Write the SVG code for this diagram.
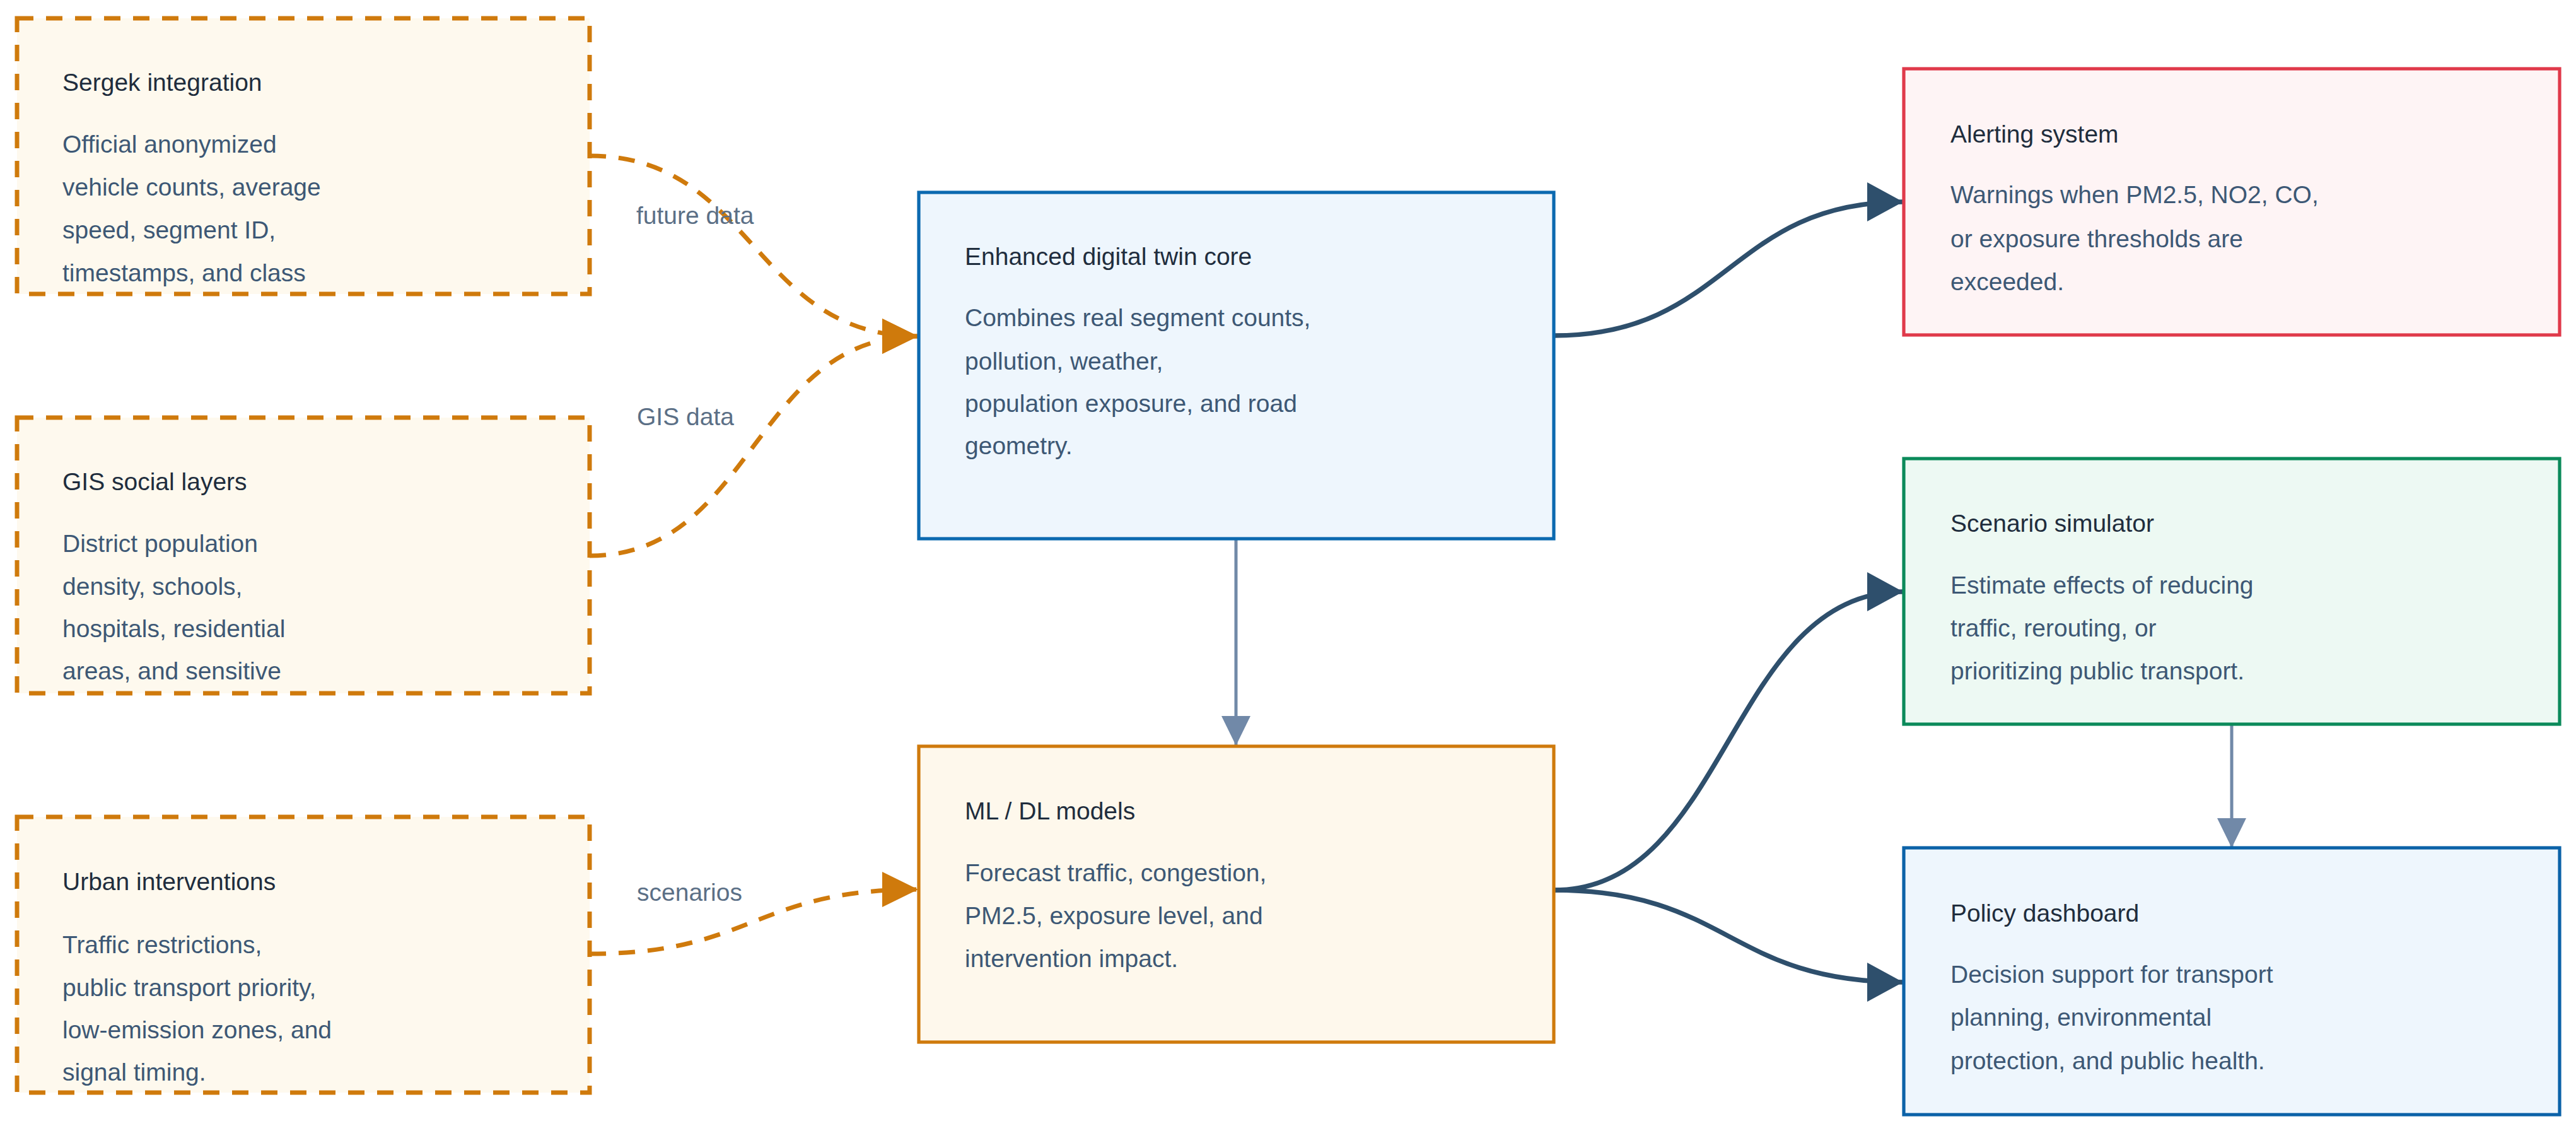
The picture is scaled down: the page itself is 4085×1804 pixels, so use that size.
<svg xmlns="http://www.w3.org/2000/svg" width="4085" height="1804" viewBox="0 0 4085 1804">
<style>
text{font-family:"Liberation Sans",Arial,sans-serif;font-size:39px}
.t{fill:#1f2d3d}
.b{fill:#3d5875}
.l{fill:#5b6f86}
.dnode{fill:#fef9ee;stroke:#cf7a0c;stroke-width:7;stroke-dasharray:26 20}
.solid{stroke-width:5.2}
.dash{fill:none;stroke:#cf7a0c;stroke-width:7;stroke-dasharray:26 20}
.dark{fill:none;stroke:#2e4f6c;stroke-width:7.5}
.gray{fill:none;stroke:#7189a8;stroke-width:5}
</style>
<defs>
<marker id="aO" viewBox="0 0 57 56" refX="57" refY="28" markerWidth="57" markerHeight="56" orient="auto" markerUnits="userSpaceOnUse"><path d="M0,0 L57,28 L0,56 z" fill="#cf7a0c"/></marker>
<marker id="aD" viewBox="0 0 57 62" refX="57" refY="31" markerWidth="57" markerHeight="62" orient="auto" markerUnits="userSpaceOnUse"><path d="M0,0 L57,31 L0,62 z" fill="#2e4f6c"/></marker>
<marker id="aG" viewBox="0 0 47 46" refX="47" refY="23" markerWidth="47" markerHeight="46" orient="auto" markerUnits="userSpaceOnUse"><path d="M0,0 L47,23 L0,46 z" fill="#7189a8"/></marker>
</defs>
<rect width="4085" height="1804" fill="#ffffff"/>
<g id="connectors">
<path class="dash" d="M935,247 C1195,247 1195,533 1456,533" marker-end="url(#aO)"/>
<path class="dash" d="M935,881 C1195,881 1195,533 1456,533" marker-end="url(#aO)"/>
<path class="dash" d="M935,1512 C1195,1512 1195,1410 1456,1410" marker-end="url(#aO)"/>
<path class="gray" d="M1960,856 L1960,1182" marker-end="url(#aG)"/>
<path class="dark" d="M2464,532 C2741,532 2741,320 3018,320" marker-end="url(#aD)"/>
<path class="dark" d="M2464,1411 C2741,1411 2741,938 3018,938" marker-end="url(#aD)"/>
<path class="dark" d="M2464,1411 C2741,1411 2741,1557 3018,1557" marker-end="url(#aD)"/>
<path class="gray" d="M3539,1150 L3539,1344" marker-end="url(#aG)"/>
<text class="l" x="1009" y="355">future data</text>
<text class="l" x="1010" y="674">GIS data</text>
<text class="l" x="1010" y="1428">scenarios</text>
</g>
<g id="sergek">
<rect class="dnode" x="27" y="29" width="908" height="437"/>
<text class="t" x="99" y="144">Sergek integration</text>
<text class="b" x="99" y="242">Official anonymized</text>
<text class="b" x="99" y="310">vehicle counts, average</text>
<text class="b" x="99" y="378">speed, segment ID,</text>
<text class="b" x="99" y="446">timestamps, and class</text>
</g>
<g id="gis">
<rect class="dnode" x="27" y="662" width="908" height="437"/>
<text class="t" x="99" y="777">GIS social layers</text>
<text class="b" x="99" y="875">District population</text>
<text class="b" x="99" y="943">density, schools,</text>
<text class="b" x="99" y="1010">hospitals, residential</text>
<text class="b" x="99" y="1077">areas, and sensitive</text>
</g>
<g id="urban">
<rect class="dnode" x="27" y="1295" width="908" height="437"/>
<text class="t" x="99" y="1411">Urban interventions</text>
<text class="b" x="99" y="1511">Traffic restrictions,</text>
<text class="b" x="99" y="1579">public transport priority,</text>
<text class="b" x="99" y="1646">low-emission zones, and</text>
<text class="b" x="99" y="1713">signal timing.</text>
</g>
<g id="core">
<rect class="solid" x="1457" y="305" width="1007" height="549" fill="#eef6fd" stroke="#0b69b0"/>
<text class="t" x="1530" y="420">Enhanced digital twin core</text>
<text class="b" x="1530" y="517">Combines real segment counts,</text>
<text class="b" x="1530" y="586">pollution, weather,</text>
<text class="b" x="1530" y="653">population exposure, and road</text>
<text class="b" x="1530" y="720">geometry.</text>
</g>
<g id="ml">
<rect class="solid" x="1457" y="1183" width="1007" height="469" fill="#fef8ec" stroke="#cf7a0c"/>
<text class="t" x="1530" y="1299">ML / DL models</text>
<text class="b" x="1530" y="1397">Forecast traffic, congestion,</text>
<text class="b" x="1530" y="1465">PM2.5, exposure level, and</text>
<text class="b" x="1530" y="1533">intervention impact.</text>
</g>
<g id="alert">
<rect class="solid" x="3019" y="109" width="1040" height="422" fill="#fef4f5" stroke="#e0394a"/>
<text class="t" x="3093" y="226">Alerting system</text>
<text class="b" x="3093" y="322">Warnings when PM2.5, NO2, CO,</text>
<text class="b" x="3093" y="392">or exposure thresholds are</text>
<text class="b" x="3093" y="460">exceeded.</text>
</g>
<g id="scenario">
<rect class="solid" x="3019" y="727" width="1040" height="421" fill="#edf9f3" stroke="#0b8a5a"/>
<text class="t" x="3093" y="843">Scenario simulator</text>
<text class="b" x="3093" y="941">Estimate effects of reducing</text>
<text class="b" x="3093" y="1009">traffic, rerouting, or</text>
<text class="b" x="3093" y="1077">prioritizing public transport.</text>
</g>
<g id="policy">
<rect class="solid" x="3019" y="1344" width="1040" height="423" fill="#eef6fd" stroke="#0b62a8"/>
<text class="t" x="3093" y="1461">Policy dashboard</text>
<text class="b" x="3093" y="1558">Decision support for transport</text>
<text class="b" x="3093" y="1626">planning, environmental</text>
<text class="b" x="3093" y="1695">protection, and public health.</text>
</g>
</svg>
